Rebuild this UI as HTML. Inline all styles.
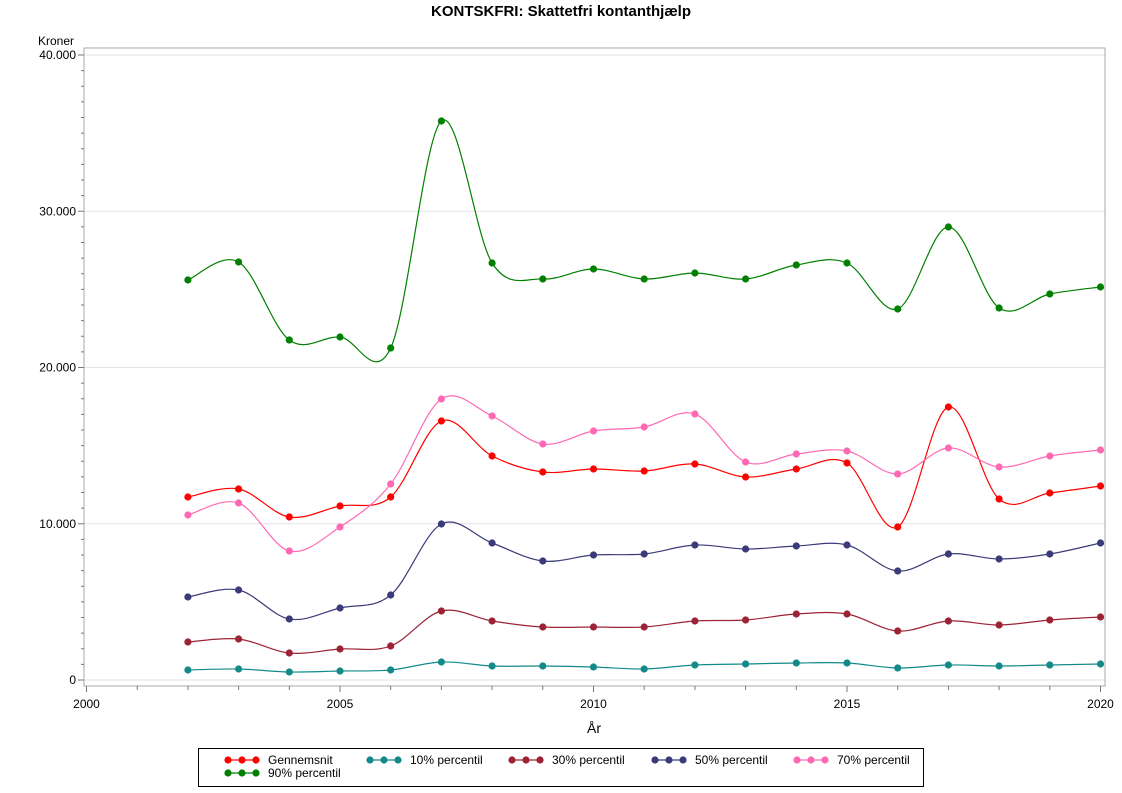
<!DOCTYPE html>
<html><head><meta charset="utf-8"><style>
body{margin:0;background:#fff;}
svg{display:block;font-family:"Liberation Sans",Arial,sans-serif;}
</style></head><body>
<svg id="s" width="1122" height="793" xmlns="http://www.w3.org/2000/svg">
<text x="561" y="16" text-anchor="middle" font-size="15" font-weight="bold">KONTSKFRI: Skattetfri kontanthjælp</text>
<text x="38" y="45" font-size="12">Kroner</text>
<g id="grid"></g>
<rect x="84" y="48" width="1021" height="638" fill="none" stroke="#aaa"/>
<g id="ax"></g>
<text x="594" y="733" text-anchor="middle" font-size="14">År</text>
<g id="series"></g>
<rect x="198.5" y="748.5" width="725" height="38" fill="#fff" stroke="#000"/>
<g id="leg" font-size="12"></g>
</svg>
<script>
const NS="http://www.w3.org/2000/svg";
function el(t,a,p){const e=document.createElementNS(NS,t);for(const k in a)e.setAttribute(k,a[k]);p.appendChild(e);return e;}
const s=document.getElementById('s'),grid=document.getElementById('grid'),ax=document.getElementById('ax');
const X=y=>86.5+50.7*(y-2000), Y=v=>680-v*0.015625;
for(let v=0;v<=40000;v+=10000){
  const y=Y(v);
  el('line',{x1:85,x2:1105,y1:y,y2:y,stroke:'#e2e2e2'},grid);
  el('line',{x1:78,x2:84,y1:y,y2:y,stroke:'#777'},ax);
  const t=el('text',{x:76,y:y+4,'text-anchor':'end','font-size':12},ax);t.textContent=v==0?'0':(v/1000)+'.000';
}
for(let v=0;v<=40000;v+=1000){if(v%10000)el('line',{x1:81,x2:84,y1:Y(v),y2:Y(v),stroke:'#777'},ax);}
for(let yr=2000;yr<=2020;yr++){
  const x=X(yr),maj=yr%5==0;
  el('line',{x1:x,x2:x,y1:686,y2:maj?692:690,stroke:'#777'},ax);
  if(maj){const t=el('text',{x:x,y:708,'text-anchor':'middle','font-size':12},ax);t.textContent=yr;}
}
const data=[
 ['#008000',[280,262,340,337,348,121,263,279,269,279,273,279,265,263,309,227,308,294,287]],
 ['#ff0000',[497,489,517,506,497,421,456,472,469,471,464,477,469,463,527,407,499,493,486]],
 ['#ff69b4',[515,503,551,527,484,399,416,444,431,427,414,462,454,451,474,448,467,456,450]],
 ['#3b3b7a',[597,590,619,608,595,524,543,561,555,554,545,549,546,545,571,554,559,554,543]],
 ['#9b2335',[642,639,653,649,646,611,621,627,627,627,621,620,614,614,631,621,625,620,617]],
 ['#138a8a',[670,669,672,671,670,662,666,666,667,669,665,664,663,663,668,665,666,665,664]]
];
const ser=document.getElementById('series');
data.forEach(([c,ys])=>{
  const P=ys.map((y,i)=>[X(2002+i),y]);
  let d='M'+P[0][0]+','+P[0][1];
  for(let i=0;i<P.length-1;i++){
    const p0=P[Math.max(i-1,0)],p1=P[i],p2=P[i+1],p3=P[Math.min(i+2,P.length-1)];
    const c1=[p1[0]+(p2[0]-p0[0])/6,p1[1]+(p2[1]-p0[1])/6],c2=[p2[0]-(p3[0]-p1[0])/6,p2[1]-(p3[1]-p1[1])/6];
    d+=' C'+c1+' '+c2+' '+p2;
  }
  el('path',{d:d,fill:'none',stroke:c,'stroke-width':1.2},ser);
  P.forEach(p=>el('circle',{cx:p[0],cy:p[1],r:3.6,fill:c},ser));
});
const leg=document.getElementById('leg');
const L=[['#ff0000','Gennemsnit',228,760],['#138a8a','10% percentil',370,760],['#9b2335','30% percentil',512,760],['#3b3b7a','50% percentil',655,760],['#ff69b4','70% percentil',797,760],['#008000','90% percentil',228,773]];
L.forEach(([c,t,x,y])=>{
  el('line',{x1:x,x2:x+28,y1:y,y2:y,stroke:c,'stroke-width':1.2},leg);
  [0,14,28].forEach(o=>el('circle',{cx:x+o,cy:y,r:3.6,fill:c},leg));
  const e=el('text',{x:x+40,y:y+4},leg);e.textContent=t;
});
</script>
</body></html>
